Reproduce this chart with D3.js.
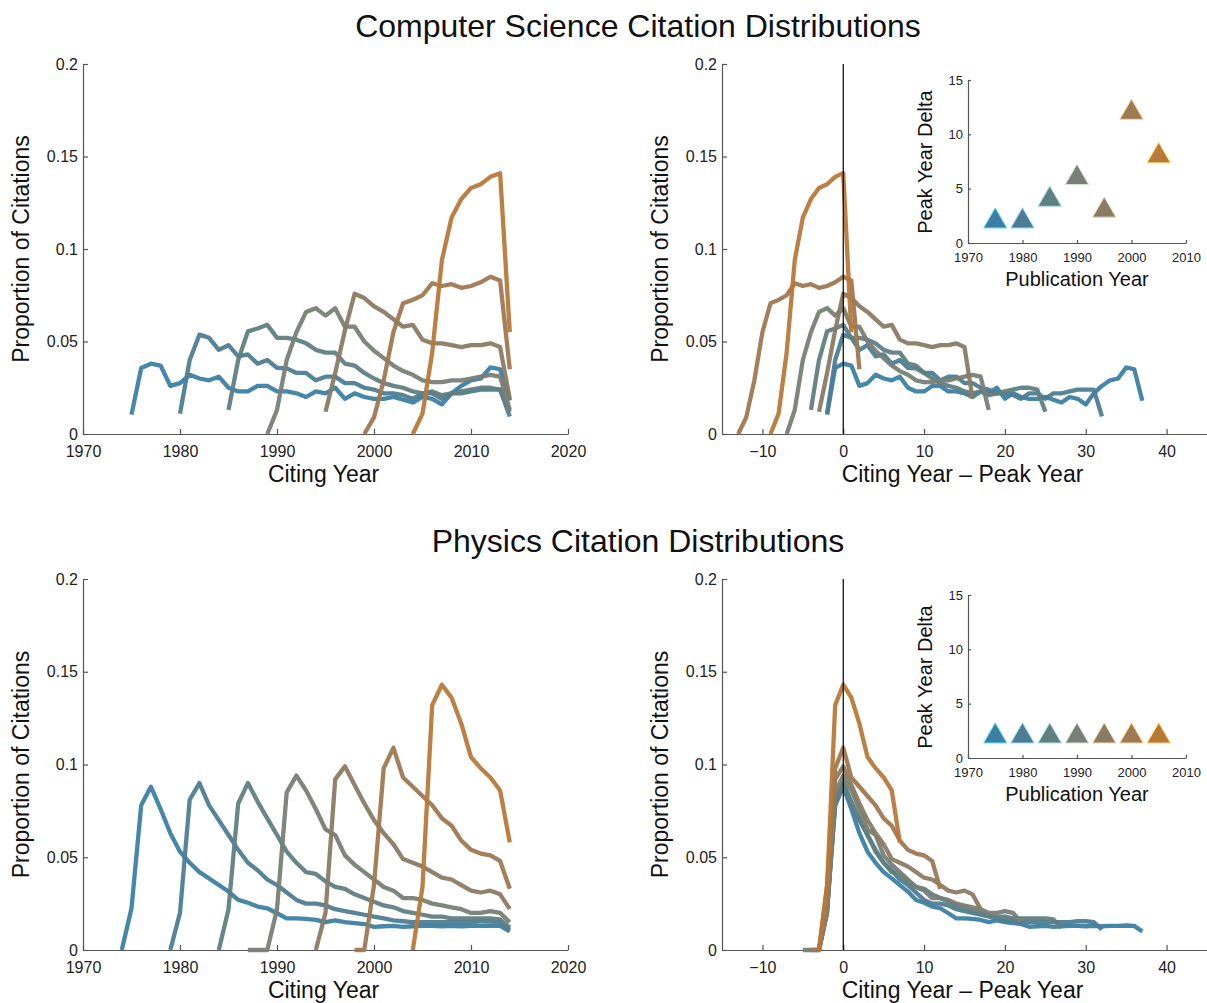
<!DOCTYPE html>
<html>
<head>
<meta charset="utf-8">
<script src="https://cdn.jsdelivr.net/npm/d3@7"></script>
<style>
  body { margin: 0; background: #fff; }
  svg { display: block; font-family: 'Liberation Sans', Arial, sans-serif; }
  .axis path, .axis line { stroke: #555; stroke-width: 1.2; }
  .axis text { fill: #222; font-size: 16px; font-family: 'Liberation Sans', Arial, sans-serif; }
  .inset .axis text { font-size: 13px; }
  .label { font-size: 23px; fill: #111; }
  .inset-label { font-size: 20px; fill: #111; }
  .title { font-size: 32px; fill: #111; }
</style>
</head>
<body>
<svg width="1207" height="1003"></svg>
<script>
// publication cohorts and their colours (blue -> orange)
const pubYears = [1975, 1980, 1985, 1990, 1995, 2000, 2005]
const seriesColors = ['#3c7fa4', '#4e7d93', '#607f82', '#787f76', '#8a7b64', '#9e7952', '#b8783a']

// computer science: first citing year of each series, values up to 2014
const csStart = [1975, 1980, 1985, 1989, 1995, 1999, 2004]
const cs1975 = [0.0105, 0.0357, 0.038, 0.037, 0.026, 0.0275, 0.032, 0.030, 0.029, 0.031,
  0.025, 0.023, 0.023, 0.026, 0.026, 0.023, 0.023, 0.022, 0.020, 0.023,
  0.022, 0.025, 0.019, 0.022, 0.020, 0.019, 0.019, 0.020, 0.0185, 0.017,
  0.020, 0.019, 0.016, 0.022, 0.026, 0.029, 0.030, 0.036, 0.035, 0.018]
const cs1980 = [0.011, 0.040, 0.0537, 0.052, 0.0455, 0.048, 0.042, 0.043, 0.038, 0.040,
  0.0357, 0.0355, 0.033, 0.033, 0.029, 0.031, 0.031, 0.0275, 0.0275, 0.025,
  0.024, 0.022, 0.022, 0.021, 0.019, 0.022, 0.022, 0.019, 0.022, 0.022,
  0.023, 0.024, 0.024, 0.024, 0.0095]
const cs1985 = [0.013, 0.040, 0.0555, 0.057, 0.059, 0.052, 0.052, 0.051, 0.049, 0.0455,
  0.044, 0.044, 0.038, 0.037, 0.033, 0.030, 0.0275, 0.026, 0.025, 0.023,
  0.022, 0.023, 0.021, 0.022, 0.023, 0.024, 0.025, 0.025, 0.024, 0.012]
const cs1990 = [0, 0.013, 0.040, 0.055, 0.066, 0.068, 0.064, 0.068, 0.058, 0.058,
  0.050, 0.045, 0.041, 0.037, 0.034, 0.032, 0.029, 0.028, 0.028, 0.029,
  0.029, 0.030, 0.031, 0.032, 0.031, 0.013]
const cs1995 = [0.012, 0.033, 0.056, 0.0758, 0.0735, 0.069, 0.066, 0.062, 0.058, 0.059,
  0.051, 0.049, 0.049, 0.048, 0.047, 0.048, 0.048, 0.049, 0.047, 0.019]
const cs2000 = [0, 0.009, 0.029, 0.055, 0.0707, 0.0725, 0.075, 0.0815, 0.080, 0.081,
  0.079, 0.080, 0.082, 0.085, 0.083, 0.035]
const cs2005 = [0, 0.011, 0.044, 0.094, 0.117, 0.127, 0.133, 0.135, 0.139, 0.141, 0.055]
const csPeakDelta = [2, 2, 4, 6, 3, 12, 8]

// physics
const phStart = [1974, 1979, 1984, 1987, 1994, 1998, 2004]
const ph1975 = [0, 0.0225, 0.078, 0.088, 0.076, 0.063, 0.053, 0.047, 0.042, 0.0386,
  0.035, 0.0315, 0.027, 0.0255, 0.0234, 0.0225, 0.0198, 0.017, 0.017, 0.0168,
  0.0162, 0.015, 0.016, 0.015, 0.0145, 0.014, 0.0125, 0.0128, 0.013, 0.0125,
  0.0128, 0.013, 0.013, 0.0128, 0.013, 0.0128, 0.013, 0.013, 0.0132, 0.013, 0.010]
const ph1980 = [0, 0.020, 0.081, 0.090, 0.078, 0.070, 0.062, 0.054, 0.047, 0.043,
  0.038, 0.035, 0.031, 0.027, 0.025, 0.025, 0.024, 0.022, 0.021, 0.020,
  0.019, 0.018, 0.017, 0.016, 0.0155, 0.015, 0.015, 0.015, 0.015, 0.015,
  0.015, 0.015, 0.0155, 0.0155, 0.015, 0.011]
const ph1985 = [0, 0.022, 0.079, 0.090, 0.080, 0.071, 0.062, 0.053, 0.047, 0.042,
  0.041, 0.037, 0.034, 0.033, 0.030, 0.028, 0.026, 0.024, 0.023, 0.021,
  0.020, 0.019, 0.018, 0.018, 0.017, 0.017, 0.017, 0.017, 0.017, 0.0165, 0.012]
const ph1990 = [0, 0, 0, 0.022, 0.085, 0.094, 0.086, 0.076, 0.065, 0.062,
  0.051, 0.046, 0.042, 0.038, 0.034, 0.032, 0.028, 0.028, 0.027, 0.025,
  0.024, 0.023, 0.022, 0.020, 0.020, 0.021, 0.020, 0.015]
const ph1995 = [0, 0.020, 0.092, 0.099, 0.089, 0.079, 0.070, 0.063, 0.057, 0.049,
  0.047, 0.045, 0.042, 0.039, 0.038, 0.035, 0.032, 0.031, 0.032, 0.030, 0.022]
const ph2000 = [0, 0, 0.035, 0.098, 0.109, 0.093, 0.088, 0.083, 0.078, 0.071,
  0.067, 0.059, 0.054, 0.052, 0.051, 0.048, 0.033]
const ph2005 = [0, 0.034, 0.132, 0.143, 0.136, 0.122, 0.104, 0.098, 0.093, 0.086, 0.058]
const phPeakDelta = [2, 2, 2, 2, 2, 2, 2]

// axes ticks
const yTicks = [0, 0.05, 0.1, 0.15, 0.2]
const yTickLabels = ['0', '0.05', '0.1', '0.15', '0.2']
const yearTicks = [1970, 1980, 1990, 2000, 2010, 2020]
const deltaTicks = [-10, 0, 10, 20, 30, 40]
const insetXTicks = [1970, 1980, 1990, 2000, 2010]
const insetYTicks = [0, 5, 10, 15]

const svg = d3.select('svg')

const sections = [
  { title: 'Computer Science Citation Distributions', start: csStart, values: [cs1975, cs1980, cs1985, cs1990, cs1995, cs2000, cs2005], delta: csPeakDelta, top: 64, bottom: 434, titleY: 37 },
  { title: 'Physics Citation Distributions', start: phStart, values: [ph1975, ph1980, ph1985, ph1990, ph1995, ph2000, ph2005], delta: phPeakDelta, top: 579, bottom: 950, titleY: 552 }
]

const buildSeries = s => s.values.map((vals, i) => ({
  color: seriesColors[i],
  peak: pubYears[i] + s.delta[i],
  points: vals.map((v, j) => ({ year: s.start[i] + j, value: v }))
}))

const drawPanel = (s, series, x, yearOf, xTicks, xFormat, xLabel, yLabelX) => {
  const y = d3.scaleLinear().domain([0, 0.2]).range([s.bottom, s.top])
  const g = svg.append('g')

  const axisX = d3.axisBottom(x).tickValues(xTicks).tickFormat(xFormat)
    .tickSizeInner(-5).tickSizeOuter(0).tickPadding(12)
  g.append('g').attr('class', 'axis').attr('transform', `translate(0,${s.bottom})`).call(axisX)

  const axisY = d3.axisLeft(y).tickValues(yTicks).tickFormat((d, i) => yTickLabels[i])
    .tickSizeInner(-5).tickSizeOuter(0).tickPadding(5)
  g.append('g').attr('class', 'axis').attr('transform', `translate(${x.range()[0]},0)`).call(axisY)

  const line = d3.line()
    .x(d => x(yearOf(d, d.peak)))
    .y(d => y(d.value))

  g.append('g').selectAll('path')
    .data(series)
    .join('path')
    .attr('d', sr => line(sr.points.map(p => ({ ...p, peak: sr.peak }))))
    .attr('fill', 'none')
    .attr('stroke', sr => sr.color)
    .attr('stroke-width', 4.3)
    .attr('stroke-linejoin', 'round')
    .attr('stroke-opacity', 0.95)

  g.append('text')
    .attr('class', 'label')
    .attr('text-anchor', 'middle')
    .attr('x', d3.mean(x.range()) - 2)
    .attr('y', s.bottom + 48)
    .text(xLabel)

  g.append('text')
    .attr('class', 'label')
    .attr('text-anchor', 'middle')
    .attr('transform', `translate(${yLabelX},${(s.top + s.bottom) / 2}) rotate(-90)`)
    .text('Proportion of Citations')

  return { g, y }
}

const drawInset = (s, top) => {
  const x = d3.scaleLinear().domain([1970, 2010]).range([968, 1186])
  const y = d3.scaleLinear().domain([0, 15]).range([top + 163, top])
  const g = svg.append('g').attr('class', 'inset')

  g.append('g').attr('class', 'axis')
    .attr('transform', `translate(0,${top + 163})`)
    .call(d3.axisBottom(x).tickValues(insetXTicks).tickFormat(d3.format('d')).tickSizeInner(-3).tickSizeOuter(0).tickPadding(10))
  g.append('g').attr('class', 'axis')
    .attr('transform', 'translate(968,0)')
    .call(d3.axisLeft(y).tickValues(insetYTicks).tickSizeInner(-3).tickSizeOuter(0).tickPadding(5))

  const tri = d3.symbol().type(d3.symbolTriangle).size(235)
  g.append('g').selectAll('path')
    .data(pubYears)
    .join('path')
    .attr('d', tri)
    .attr('transform', (d, i) => `translate(${x(d)},${y(s.delta[i])})`)
    .attr('fill', (d, i) => seriesColors[i])
    .attr('stroke', (d, i) => d3.color(seriesColors[i]).brighter(1.6))
    .attr('stroke-width', 1)

  g.append('text')
    .attr('class', 'inset-label')
    .attr('text-anchor', 'middle')
    .attr('x', 1077)
    .attr('y', top + 206)
    .text('Publication Year')

  g.append('text')
    .attr('class', 'inset-label')
    .attr('text-anchor', 'middle')
    .attr('transform', `translate(932,${top + 82}) rotate(-90)`)
    .text('Peak Year Delta')
}

sections.forEach(s => {
  const series = buildSeries(s)

  svg.append('text')
    .attr('class', 'title')
    .attr('text-anchor', 'middle')
    .attr('x', 638)
    .attr('y', s.titleY)
    .text(s.title)

  const xYear = d3.scaleLinear().domain([1970, 2020]).range([83, 568])
  drawPanel(s, series, xYear, d => d.year, yearTicks, d3.format('d'), 'Citing Year', 29)

  const xDelta = d3.scaleLinear().domain([-15, 45]).range([722, 1207])
  const right = drawPanel(s, series, xDelta, (d, peak) => d.year - peak, deltaTicks, d3.format('d'), 'Citing Year – Peak Year', 668)

  // zero line at the peak year
  right.g.append('line')
    .attr('x1', xDelta(0)).attr('x2', xDelta(0))
    .attr('y1', right.y(0)).attr('y2', right.y(0.2))
    .attr('stroke', '#000')
    .attr('stroke-width', 1.2)

  drawInset(s, s.top + 16)
})
</script>
</body>
</html>
